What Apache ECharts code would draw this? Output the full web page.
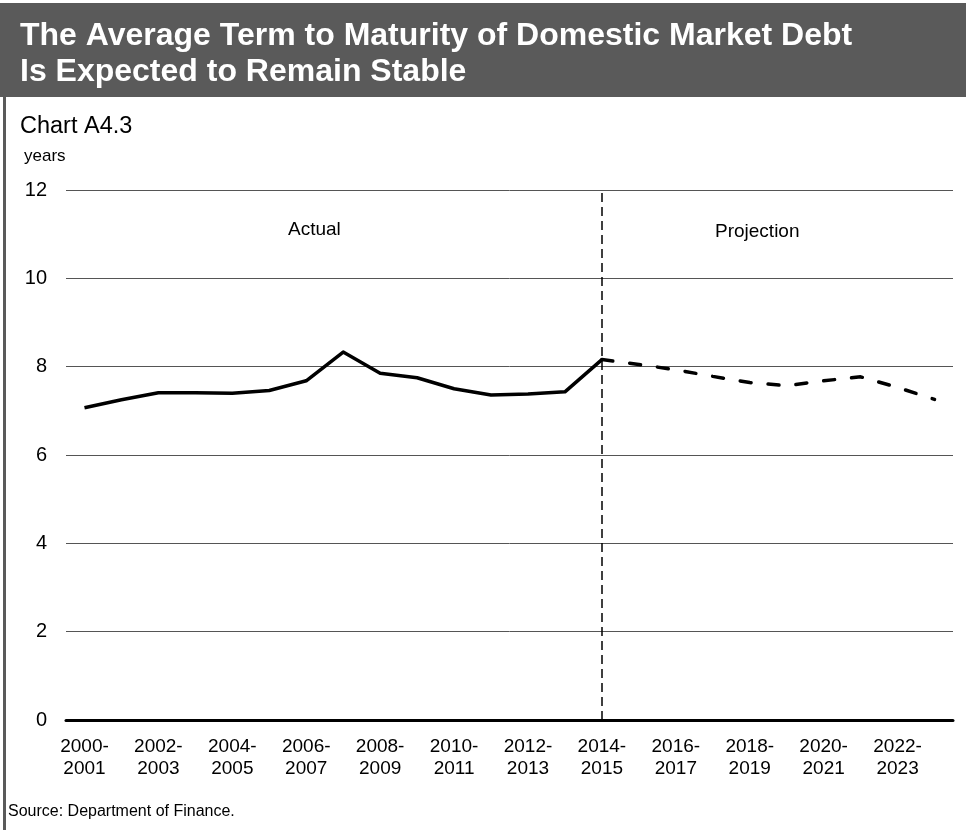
<!DOCTYPE html>
<html>
<head>
<meta charset="utf-8">
<script src="https://cdn.jsdelivr.net/npm/echarts@6/dist/echarts.min.js"></script>
<style>
html,body{margin:0;padding:0;background:#fff;}
#chart{width:966px;height:830px;}
</style>
</head>
<body>
<div id="chart"></div>
<script>
var categories = ['2000-2001','2001-2002','2002-2003','2003-2004','2004-2005','2005-2006','2006-2007','2007-2008','2008-2009','2009-2010','2010-2011','2011-2012','2012-2013','2013-2014','2014-2015','2015-2016','2016-2017','2017-2018','2018-2019','2019-2020','2020-2021','2021-2022','2022-2023','2023-2024'];
var actualValues = [7.07,7.25,7.41,7.41,7.40,7.46,7.68,8.33,7.85,7.75,7.50,7.36,7.38,7.43,8.16];
var projectionValues = [8.16,8.05,7.93,7.78,7.64,7.57,7.68,7.77,7.53,7.26];
var yTicks = [0,2,4,6,8,10,12];
var splitCategory = '2014-2015';

var actualData = categories.map(function(c,i){ return i < actualValues.length ? actualValues[i] : null; });
var projStart = categories.indexOf(splitCategory);
var projData = categories.map(function(c,i){ return i >= projStart ? projectionValues[i-projStart] : null; });

var FONT = '"Liberation Sans", Arial, sans-serif';
var chart = echarts.init(document.getElementById('chart'));
chart.setOption({
  animation:false,
  backgroundColor:'#fff',
  grid:{left:66,right:13,top:190,bottom:110},
  graphic:[
    {type:'rect',left:0,top:3,shape:{width:966,height:94},style:{fill:'#5a5a5a'}},
    {type:'rect',left:3,top:97,shape:{width:3,height:733},style:{fill:'#5a5a5a'}},
    {type:'text',left:20,top:18,style:{text:'The Average Term to Maturity of Domestic Market Debt\nIs Expected to Remain Stable',fill:'#fff',font:'bold 32px '+FONT,lineHeight:36}},
    {type:'text',left:20,top:115,style:{text:'Chart A4.3',fill:'#000',font:'23.5px '+FONT}},
    {type:'text',left:24,top:148,style:{text:'years',fill:'#000',font:'17px '+FONT}},
    {type:'text',left:8,top:804,style:{text:'Source: Department of Finance.',fill:'#000',font:'16px '+FONT}},
    {type:'text',left:288,top:220,style:{text:'Actual',fill:'#000',font:'19px '+FONT}},
    {type:'text',left:715,top:222,style:{text:'Projection',fill:'#000',font:'19px '+FONT}}
  ],
  xAxis:{
    type:'category',
    data:categories,
    boundaryGap:true,
    axisLine:{lineStyle:{color:'#000',width:3}},
    axisTick:{alignWithLabel:true,interval:0,length:4,inside:false,lineStyle:{color:'#000',width:2}},
    axisLabel:{
      interval:1,color:'#000',fontSize:19,fontFamily:FONT,lineHeight:22,margin:16,
      formatter:function(v){ var p=v.split('-'); return p[0]+'-\n'+p[1]; }
    }
  },
  yAxis:{
    type:'value',min:yTicks[0],max:yTicks[yTicks.length-1],interval:2,
    axisLine:{show:false},axisTick:{show:false},
    axisLabel:{color:'#000',fontSize:20,fontFamily:FONT,margin:19},
    splitLine:{lineStyle:{color:'#555',width:1}}
  },
  series:[
    {
      name:'Actual',type:'line',data:actualData,showSymbol:false,symbol:'none',
      lineStyle:{color:'#000',width:3.5,join:'round'},
      markLine:{
        silent:true,symbol:'none',label:{show:false},
        lineStyle:{color:'#000',width:1.5,type:[9,5]},
        data:[{xAxis:splitCategory}]
      }
    },
    {
      name:'Projection',type:'line',data:projData,showSymbol:false,symbol:'none',
      lineStyle:{color:'#000',width:3.5,type:[11,17],cap:'round'}
    }
  ]
});
</script>
</body>
</html>
